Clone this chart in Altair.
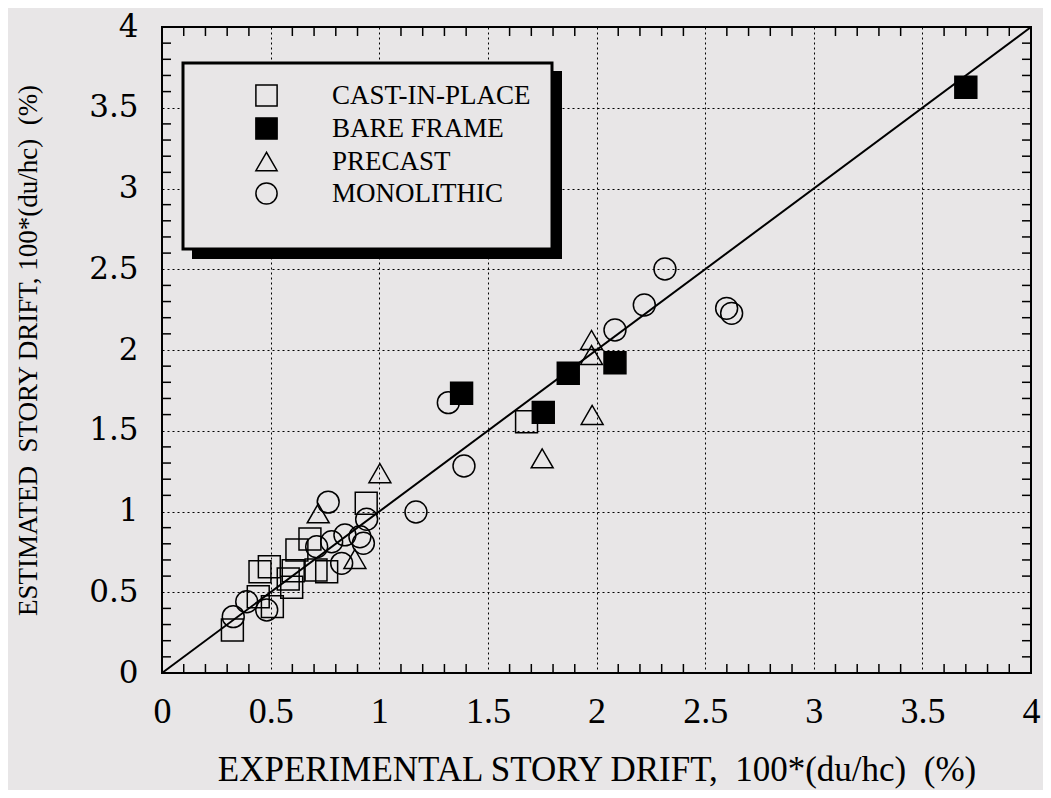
import altair as alt
import pandas as pd

# ---------------- data ----------------
categories = ["CAST-IN-PLACE", "BARE FRAME", "PRECAST", "MONOLITHIC"]

cip_x = [0.940, 1.678, 0.681, 0.621, 0.451, 0.494, 0.581, 0.604, 0.709, 0.758, 0.597, 0.443, 0.508, 0.324]
cip_y = [1.051, 1.556, 0.830, 0.762, 0.627, 0.658, 0.582, 0.633, 0.638, 0.627, 0.531, 0.472, 0.411, 0.266]

bare_x = [3.700, 1.379, 1.755, 1.870, 2.085]
bare_y = [3.627, 1.732, 1.614, 1.856, 1.921]

pre_x = [1.977, 1.977, 1.980, 1.750, 1.003, 0.719, 0.888]
pre_y = [2.062, 1.969, 1.598, 1.329, 1.237, 0.989, 0.706]

mono_x = [2.315, 2.220, 2.085, 2.599, 2.622, 1.318, 1.390, 1.169, 0.765, 0.942,
          0.927, 0.842, 0.781, 0.712, 0.827, 0.390, 0.482, 0.328, 0.911]
mono_y = [2.502, 2.279, 2.124, 2.258, 2.227, 1.674, 1.282, 0.997, 1.058, 0.952,
          0.803, 0.855, 0.813, 0.782, 0.679, 0.441, 0.390, 0.349, 0.844]

ref_x = [0, 4]
ref_y = [0, 4]

major_ticks = [0, 0.5, 1, 1.5, 2, 2.5, 3, 3.5, 4]
minor_ticks = [round(i * 0.1, 1) for i in range(1, 40) if i % 5]

BG = "#e8e6e7"
W, H = 869, 646

rows = []
for cat, xs, ys in [(categories[0], cip_x, cip_y), (categories[1], bare_x, bare_y),
                    (categories[2], pre_x, pre_y), (categories[3], mono_x, mono_y)]:
    for a, b in zip(xs, ys):
        rows.append({"x": a, "y": b, "cat": cat})
pts = pd.DataFrame(rows)

xscale = alt.Scale(domain=[0, 4], nice=False, zero=False)
yscale = alt.Scale(domain=[0, 4], nice=False, zero=False)

legend = alt.Legend(
    title=None, orient="none", legendX=91, legendY=55, padding=0,
    labelFont="Liberation Serif", labelFontSize=27, labelColor="black",
    labelOffset=52, rowPadding=4, symbolSize=450, symbolStrokeWidth=1.5,
    symbolOffset=0, labelLimit=400,
)

points = alt.Chart(pts).mark_point(filled=False, size=480, strokeWidth=1.5, opacity=1).encode(
    x=alt.X("x:Q", scale=xscale,
            axis=alt.Axis(values=major_ticks, format="~g", grid=True, gridColor="black",
                          gridDash=[2, 3], gridWidth=1, gridOpacity=1, ticks=False, domain=False,
                          labelFont="Liberation Serif", labelFontSize=36, labelColor="black",
                          labelPadding=21, labelFlush=False,
                          title="EXPERIMENTAL STORY DRIFT,\u00a0 100*(du/hc)\u00a0 (%)",
                          titleFont="Liberation Serif", titleFontSize=35, titleFontWeight="normal",
                          titleColor="black", titlePadding=23)),
    y=alt.Y("y:Q", scale=yscale,
            axis=alt.Axis(values=major_ticks, format="~g", grid=True, gridColor="black",
                          gridDash=[2, 3], gridWidth=1, gridOpacity=1, ticks=False, domain=False,
                          labelFont="DejaVu Serif", labelFontSize=31, labelColor="black",
                          labelPadding=24, labelFlush=False,
                          title="ESTIMATED\u00a0 STORY DRIFT, 100*(du/hc)\u00a0 (%)",
                          titleFont="Liberation Serif", titleFontSize=27, titleFontWeight="normal",
                          titleColor="black", titlePadding=46)),
    shape=alt.Shape("cat:N", scale=alt.Scale(domain=categories,
                                             range=["square", "square", "triangle-up", "circle"]),
                    legend=legend),
    fill=alt.Fill("cat:N", scale=alt.Scale(domain=categories,
                                           range=["transparent", "black", "transparent", "transparent"]),
                  legend=legend),
    stroke=alt.Stroke("cat:N", scale=alt.Scale(domain=categories,
                                               range=["black", "black", "black", "black"]),
                      legend=legend),
)

one = pd.DataFrame({"a": [0]})
shadow = alt.Chart(one).mark_rect(color="black").encode(
    x=alt.value(30), x2=alt.value(400), y=alt.value(44), y2=alt.value(232))
box = alt.Chart(one).mark_rect(fill=BG, stroke="black", strokeWidth=3).encode(
    x=alt.value(21), x2=alt.value(390), y=alt.value(36), y2=alt.value(222))

line = alt.Chart(pd.DataFrame({"x": ref_x, "y": ref_y})).mark_line(
    color="black", strokeWidth=2).encode(
    x=alt.X("x:Q", scale=xscale), y=alt.Y("y:Q", scale=yscale))

tk = pd.DataFrame({"t": minor_ticks})
TL = 9
tick_b = alt.Chart(tk).mark_rule(color="black", strokeWidth=1.5).encode(
    x=alt.X("t:Q", scale=xscale), y=alt.value(H), y2=alt.value(H - TL))
tick_t = alt.Chart(tk).mark_rule(color="black", strokeWidth=1.5).encode(
    x=alt.X("t:Q", scale=xscale), y=alt.value(0), y2=alt.value(TL))
tick_l = alt.Chart(tk).mark_rule(color="black", strokeWidth=1.5).encode(
    y=alt.Y("t:Q", scale=yscale), x=alt.value(0), x2=alt.value(TL))
tick_r = alt.Chart(tk).mark_rule(color="black", strokeWidth=1.5).encode(
    y=alt.Y("t:Q", scale=yscale), x=alt.value(W), x2=alt.value(W - TL))

chart = alt.layer(shadow, box, tick_b, tick_t, tick_l, tick_r, line, points).properties(
    width=W, height=H,
    autosize=alt.AutoSizeParams(type="none"),
    padding={"left": 154, "top": 19, "right": 12, "bottom": 117},
    background=BG,
).configure_view(stroke="black", strokeWidth=2)

chart.save("out.html", embed_options={"renderer": "svg", "actions": False})
